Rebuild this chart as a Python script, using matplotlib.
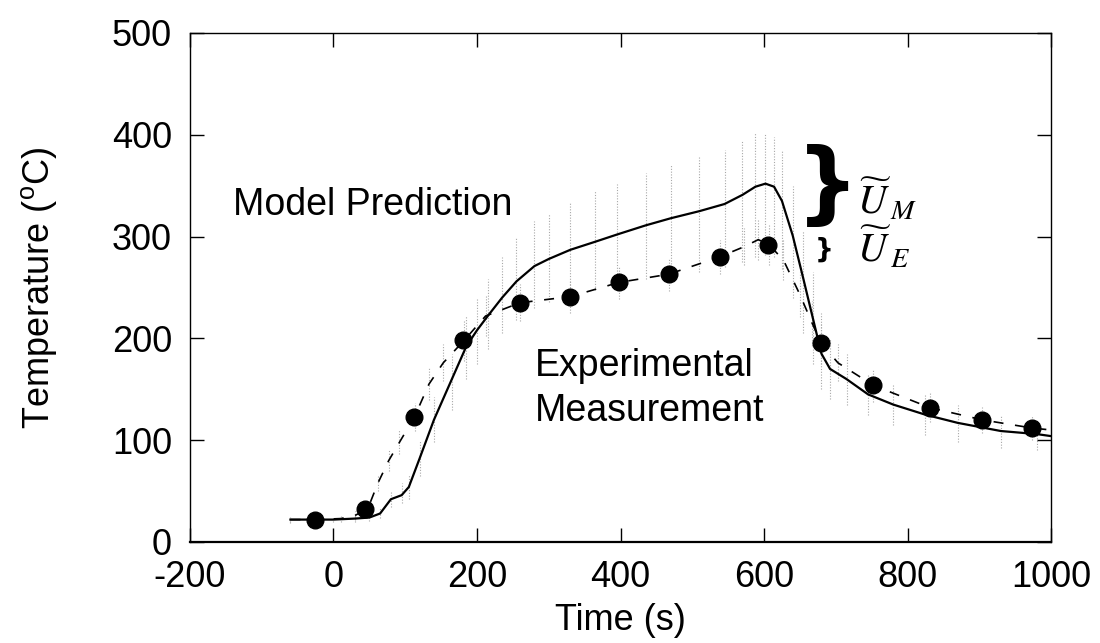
import matplotlib
matplotlib.use("Agg")
import matplotlib.pyplot as plt

plt.rcParams['font.family'] = ['Liberation Sans', 'DejaVu Sans']
plt.rcParams['mathtext.fontset'] = 'custom'
plt.rcParams['mathtext.rm'] = 'Liberation Sans'
plt.rcParams['mathtext.it'] = 'Liberation Sans:italic'
plt.rcParams['axes.unicode_minus'] = False

# ---- data ----
model_t = [-60, -30, 0, 30, 50, 65, 80, 95, 105, 120, 140, 165, 185, 200, 215, 235, 255, 280,
           300, 330, 365, 395, 435, 470, 510, 545, 570, 588, 602, 614, 625, 640, 655, 668,
           680, 692, 715, 745, 780, 825, 870, 930, 980, 1000]
model_T = [22, 22, 22, 23, 24, 28, 42, 46, 54, 82, 120, 160, 192, 208, 222, 240, 256, 271,
           278, 287, 295, 302, 311, 318, 325, 332, 341, 349, 352, 349, 335, 301, 258, 220,
           185, 170, 160, 145, 135, 125, 117, 109, 106, 104]
model_lo = [20, 20, 20, 20, 21, 24, 34, 38, 42, 65, 98, 130, 160, 175, 190, 205, 218, 230,
            236, 242, 248, 252, 258, 262, 265, 270, 275, 280, 282, 280, 268, 240, 205, 175,
            150, 140, 135, 125, 115, 105, 98, 92, 90, 88]
model_hi = [25, 25, 25, 27, 28, 34, 50, 58, 66, 100, 142, 185, 222, 240, 258, 280, 300, 315,
            322, 333, 345, 352, 362, 370, 378, 385, 395, 402, 402, 398, 385, 350, 305, 265,
            225, 200, 185, 165, 155, 145, 135, 125, 120, 118]

exp_t = [-60, -25, 10, 30, 48, 62, 77, 92, 113, 133, 153, 182, 212, 260, 330, 398, 467, 538,
         572, 592, 607, 627, 650, 667, 680, 703, 752, 831, 904, 973, 1000]
exp_T = [22, 22, 23, 26, 33, 58, 80, 98, 123, 155, 176, 198, 222, 235, 241, 255, 263, 280,
         290, 297, 292, 277, 243, 215, 195, 176, 154, 132, 120, 112, 110]
exp_err = [3, 3, 3, 4, 5, 8, 10, 12, 14, 16, 18, 20, 20, 18, 16, 16, 16, 17,
           18, 20, 20, 20, 22, 22, 20, 18, 16, 14, 13, 12, 12]

marker_t = [-26, 44, 112, 181, 260, 330, 398, 467, 538, 606, 679, 752, 831, 904, 973]
marker_T = [22, 32, 123, 198, 235, 241, 255, 263, 280, 292, 195, 154, 132, 120, 112]

x_ticks = [-200, 0, 200, 400, 600, 800, 1000]
y_ticks = [0, 100, 200, 300, 400, 500]

fig = plt.figure(figsize=(11, 6.43), dpi=100)
ax = fig.add_axes([0.1727, 0.1571, 0.7828, 0.7916])

# uncertainty stipple (model)
ax.vlines(model_t, model_lo, model_hi, colors='#a8a8a8', linewidth=0.8,
          linestyles=(0, (1, 1.5)), zorder=1)
# uncertainty stipple (experiment)
ax.vlines(exp_t, [v - e for v, e in zip(exp_T, exp_err)],
          [v + e for v, e in zip(exp_T, exp_err)],
          colors='#a8a8a8', linewidth=0.8, linestyles=(0, (1, 1.5)), zorder=1)

ax.plot(model_t, model_T, color='black', linewidth=1.6, zorder=3)
ax.plot(exp_t, exp_T, color='black', linewidth=1.2, dashes=(6, 7), zorder=3)
ax.plot(marker_t, marker_T, linestyle='none', marker='o', markersize=12,
        color='black', zorder=4)

ax.set_xlim(-200, 1000)
ax.set_ylim(0, 500)
ax.set_xticks(x_ticks)
ax.set_yticks(y_ticks)
ax.tick_params(direction='in', top=True, right=True, length=10, width=1.0,
               labelsize=26)
ax.tick_params(axis='x', pad=13)
ax.tick_params(axis='y', pad=13)
for s in ax.spines.values():
    s.set_linewidth(1.0)
ax.spines['bottom'].set_linewidth(1.6)

ax.set_xlabel('Time (s)', fontsize=26, labelpad=6)
ax.set_ylabel('Temperature ($^{\\mathregular{o}}$C)', fontsize=26)
ax.yaxis.set_label_coords(-0.152, 0.5)

ax.text(-140, 321, 'Model Prediction', fontsize=27, ha='left', va='baseline')
ax.text(281, 163, 'Experimental', fontsize=27, ha='left', va='baseline')
ax.text(281, 119, 'Measurement', fontsize=27, ha='left', va='baseline')

ax.text(688, 348, '}', fontsize=64, fontweight='heavy', family='DejaVu Sans',
        ha='center', va='center')
ax.text(684, 287, '}', fontsize=19, fontweight='bold', family='DejaVu Sans',
        ha='center', va='center')
ax.text(730, 336, r'$\widetilde{U}_{\,M}$', fontsize=29, math_fontfamily='stix',
        ha='left', va='center')
ax.text(730, 289, r'$\widetilde{U}_{\,E}$', fontsize=29, math_fontfamily='stix',
        ha='left', va='center')

fig.savefig('out.png', dpi=100)
